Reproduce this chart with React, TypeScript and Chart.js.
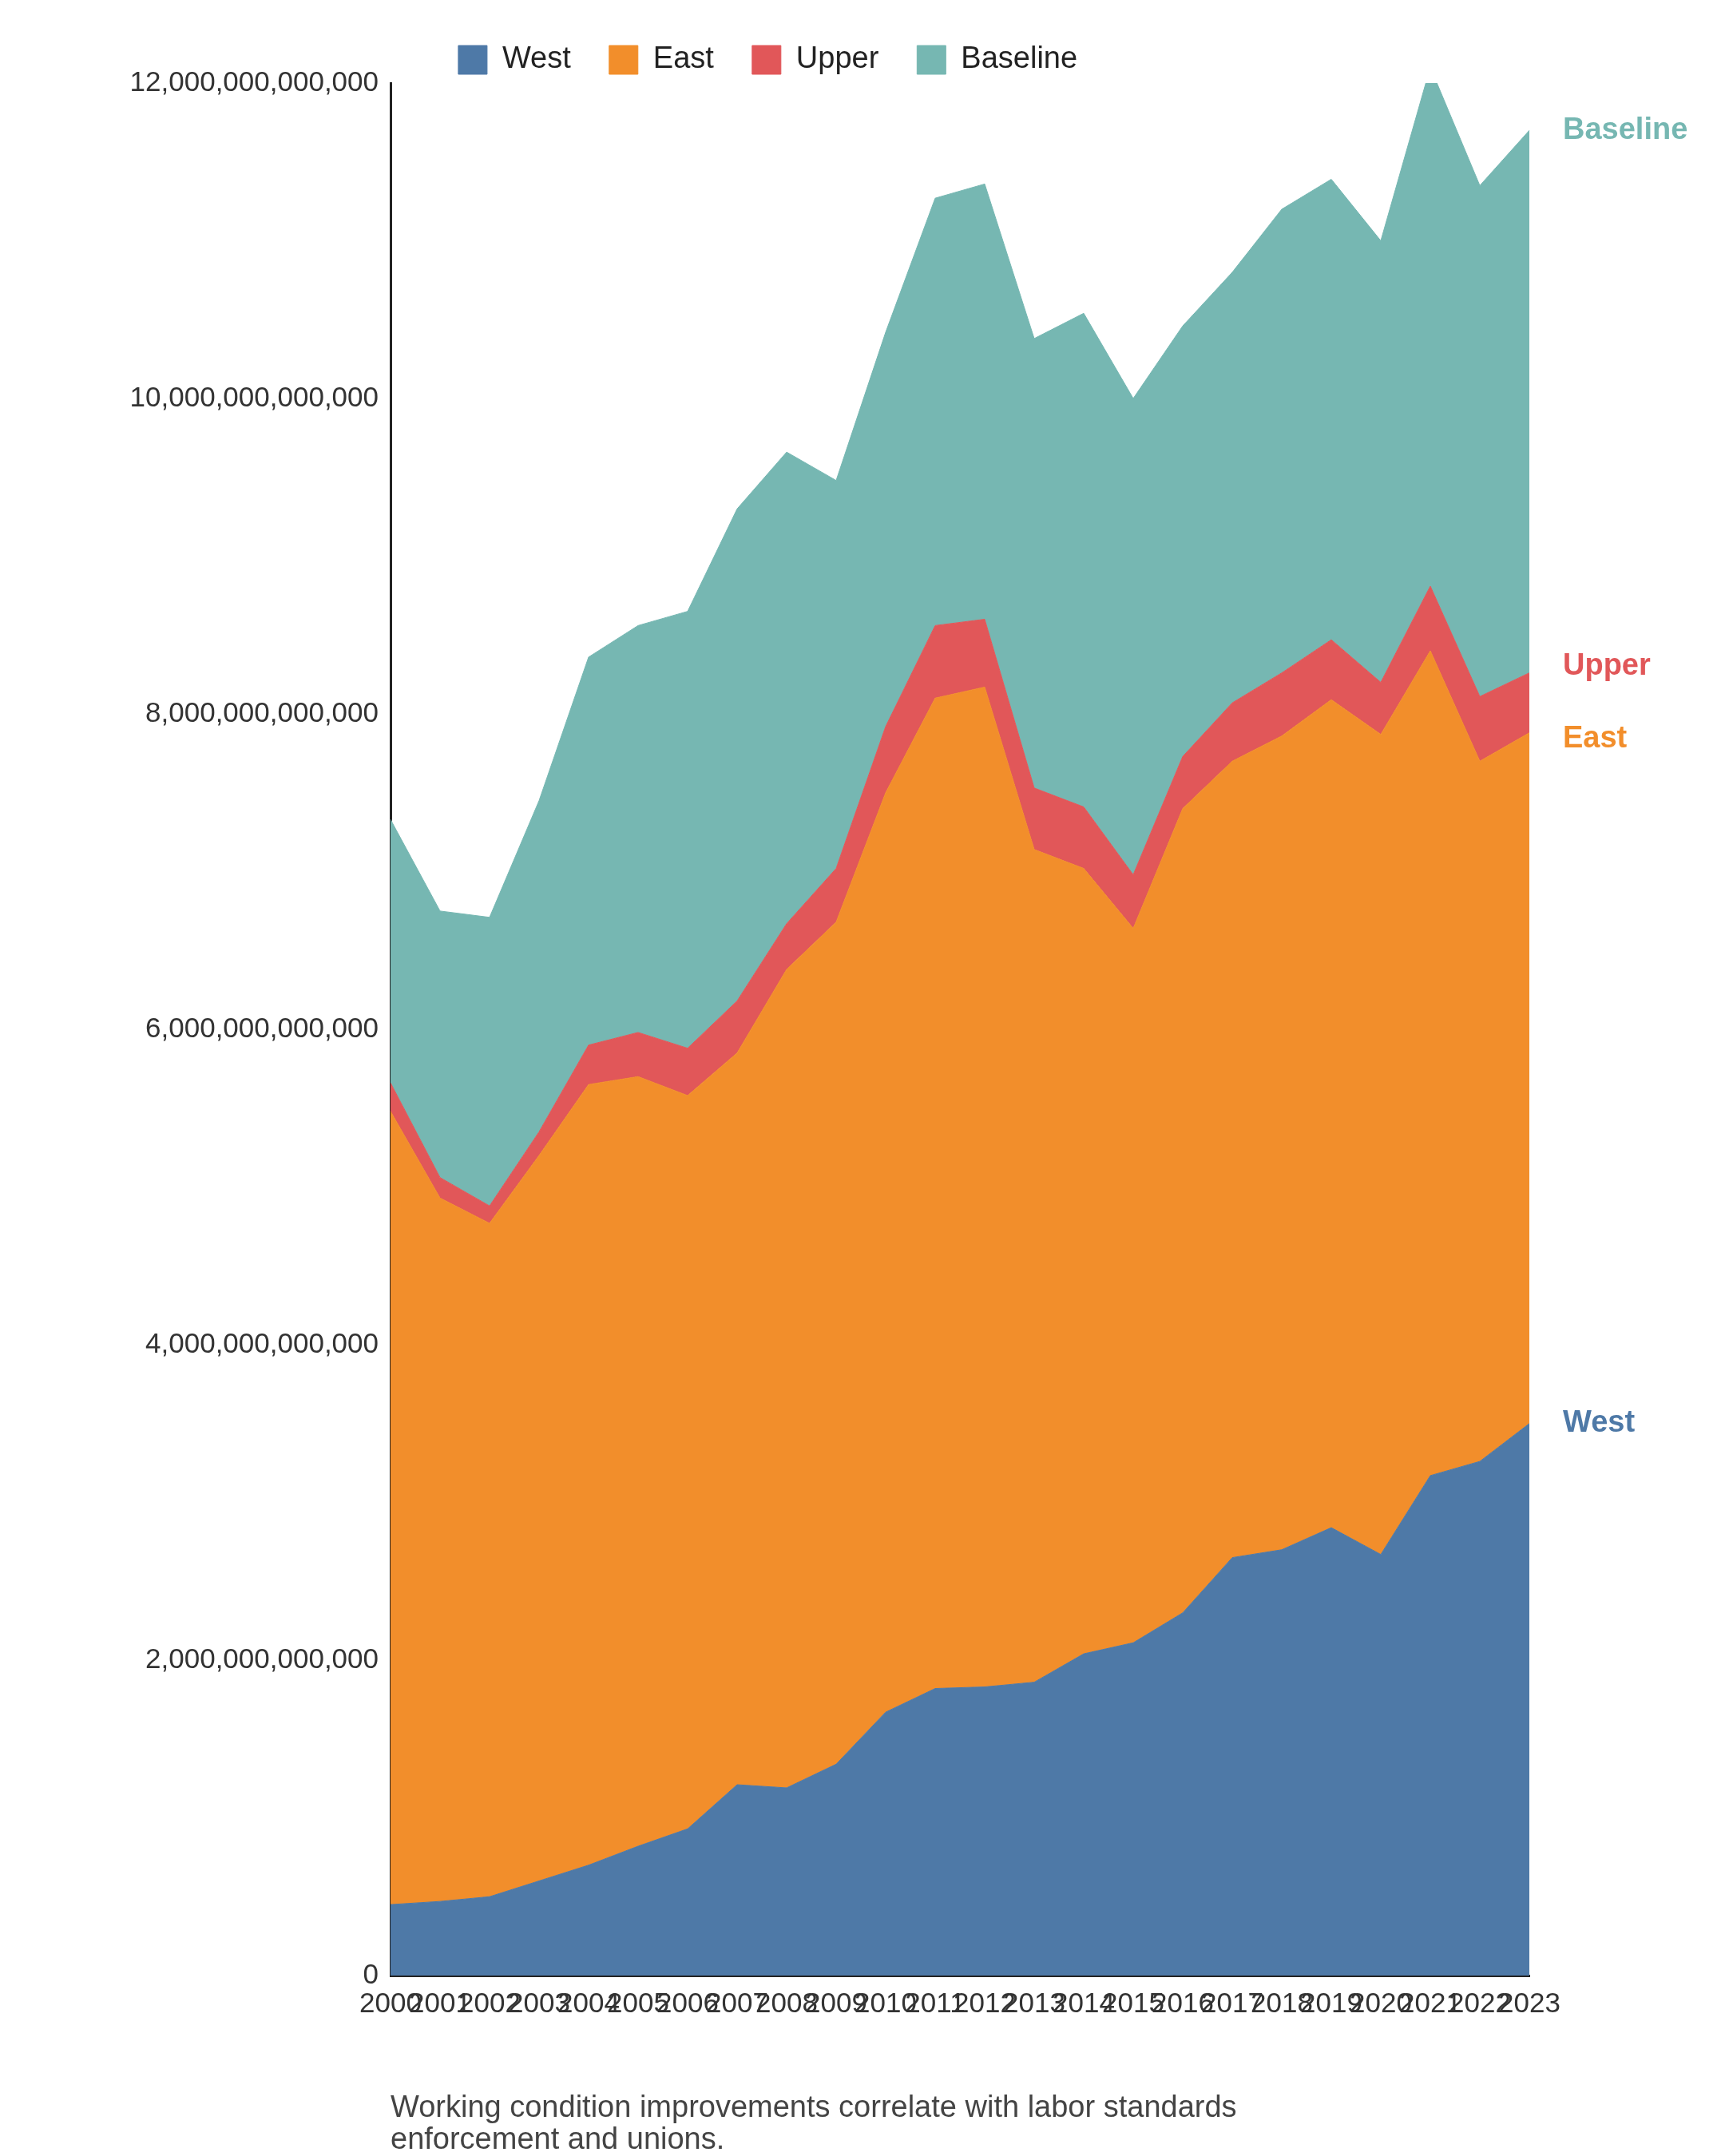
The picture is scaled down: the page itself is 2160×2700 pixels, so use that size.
import React, { useEffect, useRef } from "react";
import { Chart, registerables } from "chart.js";
Chart.register(...registerables);

const years = ["2000","2001","2002","2003","2004","2005","2006","2007","2008","2009","2010","2011","2012","2013","2014","2015","2016","2017","2018","2019","2020","2021","2022","2023"];
const west = [0.45,0.47,0.5,0.6,0.7,0.82,0.93,1.21,1.19,1.34,1.67,1.82,1.83,1.86,2.04,2.11,2.3,2.65,2.7,2.84,2.67,3.17,3.26,3.5];
const east = [5.03,4.46,4.27,4.6,4.95,4.88,4.65,4.64,5.19,5.34,5.83,6.28,6.34,5.28,4.98,4.53,5.1,5.05,5.16,5.25,5.2,5.23,4.44,4.38];
const upper = [0.18,0.13,0.11,0.15,0.25,0.28,0.3,0.33,0.29,0.34,0.42,0.46,0.43,0.39,0.39,0.34,0.33,0.37,0.4,0.38,0.33,0.41,0.41,0.38];
const baseline = [1.67,1.69,1.83,2.1,2.46,2.58,2.77,3.12,2.99,2.46,2.5,2.71,2.76,2.85,3.13,3.02,2.73,2.73,2.94,2.92,2.8,3.29,3.24,3.44];
const names = ["West","East","Upper","Baseline"];
const colors = ["#4e79a7","#f28e2b","#e15759","#76b7b2"];
const caption = ["Working condition improvements correlate with labor standards","enforcement and unions."];
const T = 1e12;
const FONT = "'Liberation Sans', Arial, sans-serif";

export default function App() {
  const ref = useRef<HTMLCanvasElement>(null);
  useEffect(() => {
    const series = [west, east, upper, baseline];
    const endPlugin = {
      id: "ends",
      afterDatasetsDraw(chart: any) {
        const ctx = chart.ctx;
        const ca = chart.chartArea;
        ctx.save();
        ctx.font = `bold 38px ${FONT}`;
        ctx.textBaseline = "middle";
        ctx.textAlign = "left";
        const ys = chart.scales.y;
        let cum = 0;
        const pos = series.map((s) => { cum += s[s.length - 1]; return cum; });
        const offs = [0, 0, 0, 0];
        // separate East/Upper labels slightly
        offs[1] = 8; offs[2] = -8;
        pos.forEach((v, i) => {
          ctx.fillStyle = colors[i];
          ctx.fillText(names[i], ca.right + 42, ys.getPixelForValue(v * T) + offs[i]);
        });
        ctx.font = `38px ${FONT}`;
        ctx.fillStyle = "#444";
        ctx.textBaseline = "alphabetic";
        ctx.fillText(caption[0], ca.left, 2643);
        ctx.fillText(caption[1], ca.left, 2683);
        ctx.restore();
      },
    };
    const chart = new Chart(ref.current!, {
      type: "line",
      data: {
        labels: years,
        datasets: series.map((s, i) => ({
          label: names[i],
          data: s.map((v) => v * T),
          backgroundColor: colors[i],
          borderColor: colors[i],
          borderWidth: 1,
          pointRadius: 0,
          fill: i === 0 ? "origin" : "-1",
          tension: 0,
        })),
      },
      options: {
        responsive: false,
        animation: false,
        devicePixelRatio: 1,
        layout: { padding: { top: 0, right: 237, bottom: 150, left: 0 } },
        plugins: {
          legend: {
            position: "top",
            labels: { font: { family: FONT, size: 38 }, color: "#222", boxWidth: 36, boxHeight: 36, padding: 48 },
          },
          tooltip: { enabled: false },
        },
        scales: {
          x: {
            offset: false,
            grid: { display: false, drawTicks: true, tickLength: 12, color: "#222" },
            border: { display: true, color: "#222", width: 3 },
            ticks: { autoSkip: false, maxRotation: 0, minRotation: 0, font: { family: FONT, size: 35 }, color: "#333" },
            afterFit: (s: any) => { s.height = 68; },
          },
          y: {
            stacked: true,
            min: 0,
            max: 12 * T,
            grid: { display: false, drawTicks: true, tickLength: 12 },
            border: { display: true, color: "#222", width: 3 },
            ticks: { stepSize: 2 * T, font: { family: FONT, size: 35 }, color: "#333", callback: (v: any) => Number(v).toLocaleString("en-US") },
            afterFit: (s: any) => { s.width = 481; },
          },
        },
      },
      plugins: [endPlugin],
    });
    return () => chart.destroy();
  }, []);
  return <div style={{ width: 2144, height: 2684 }}><canvas ref={ref} width={2144} height={2684} /></div>;
}
